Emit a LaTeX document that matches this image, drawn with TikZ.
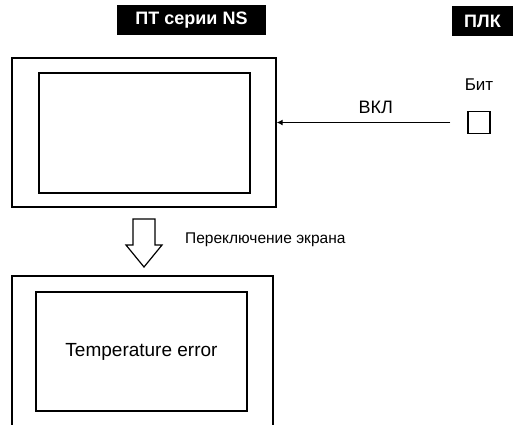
\documentclass[tikz,border=0pt]{standalone}
\usepackage{fontspec}
\setmainfont{Liberation Sans}
\usetikzlibrary{arrows.meta,positioning}

\begin{document}
\begin{tikzpicture}[x=1pt, y=-1pt,
  frame/.style={rectangle, draw, line width=1.3pt, inner sep=0pt},
  header/.style={rectangle, fill=black, text=white, inner sep=0pt,
                 minimum height=30pt, font=\fontsize{18}{20}\selectfont\bfseries},
  label/.style={inner sep=0pt, font=\fontsize{18}{20}\selectfont},
  arrow/.style={-{Latex[length=6pt,width=6pt]}, line width=1.2pt},
  hollow/.style={draw, line width=1.2pt, fill=white, line join=miter}
]
  \useasboundingbox (0,0) rectangle (513,424);
  \clip (0,0) rectangle (513,424);

  % Headers
  \node[header, minimum width=149pt] (pt)  at (191.5,20) {ПТ серии NS};
  \node[header, minimum width=61pt]  (plc) at (482.5,21) {ПЛК};

  % Screens
  \node[frame, minimum width=264pt, minimum height=149pt] (topouter) at (144,132.5) {};
  \node[frame, minimum width=211pt, minimum height=120pt] (topinner) at (144.5,133) {};
  \node[frame, minimum width=261pt, minimum height=170pt] (botouter) at (142.5,361) {};
  \node[frame, minimum width=211pt, minimum height=119pt,
        font=\fontsize{19}{21}\selectfont] (botinner) at (141.5,351.5) {Temperature error};

  % Bit
  \node[frame, line width=1.2pt, minimum size=22pt] (bit) at (479,122.5) {};
  \node[label, font=\fontsize{17}{19}\selectfont] (bitlbl) at (479,85) {Бит};

  % Arrows
  \draw[arrow] ([xshift=-17pt]bit.west) -- node[label, pos=0.43, above=8.5pt] {ВКЛ}
               (bit.west -| topouter.east);
  \coordinate (sw) at (144,219);
  \draw[hollow] (sw) ++(-11,0) -- ++(22,0) -- ++(0,26) -- ++(7,0)
                -- ++(-18,22) -- ++(-18,-22) -- ++(7,0) -- cycle;
  \node[label, anchor=west, font=\fontsize{15.5}{17}\selectfont] (switch)
       at (185,240) {Переключение экрана};
\end{tikzpicture}
\end{document}
